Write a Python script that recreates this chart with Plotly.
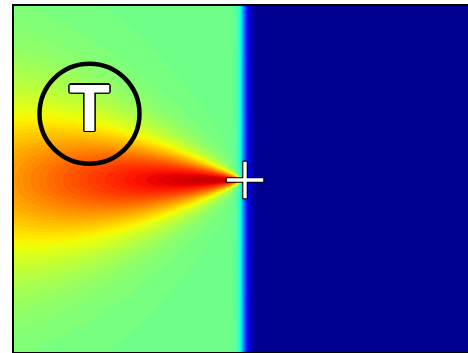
import numpy as np
import plotly.graph_objects as go

# Plot window in field units (1 unit = 100 px on screen)
x_range = [-2.31, 2.23]
y_range = [-1.72, 1.74]
grid_step = 0.01

# Marked locations
source_xy = [0.0, 0.0]          # plume tip, drawn as a cross
probe_xy = [-1.555, 0.662]      # probe, drawn as a ring with a label
probe_label = ["T"]

# Background levels either side of the front
left_level = 0.485
right_level = 0.012
front_x = -0.01
front_width = 0.06

# Plume: peak value, decay length, and width law  w = coef * r**exp
plume_peak = 0.46
plume_decay = 3.1
plume_width_coef = 0.406
plume_width_exp = 0.95

# Jet colour map breakpoints
jet_r = ([0, 0.35, 0.66, 0.89, 1], [0, 0, 1, 1, 0.5])
jet_g = ([0, 0.125, 0.375, 0.64, 0.91, 1], [0, 0, 1, 1, 0, 0])
jet_b = ([0, 0.11, 0.34, 0.65, 1], [0.5, 1, 1, 0, 0])


def jet_scale(n=101):
    scale = []
    for v in np.linspace(0, 1, n):
        r = np.interp(v, *jet_r)
        g = np.interp(v, *jet_g)
        b = np.interp(v, *jet_b)
        scale.append([float(v), f"rgb({int(round(r*255))},{int(round(g*255))},{int(round(b*255))})"])
    return scale


xs = np.arange(x_range[0], x_range[1] + 1e-9, grid_step)
ys = np.arange(y_range[0], y_range[1] + 1e-9, grid_step)
X, Y = np.meshgrid(xs, ys)
dx = X - source_xy[0]
dy = Y - source_xy[1]
r = np.hypot(dx, dy) + 1e-9
width = plume_width_coef * r ** plume_width_exp
plume = plume_peak * np.exp(-(r / plume_decay) ** 2) * np.exp(-(dy / width) ** 2)
step = 0.5 * (1 - np.tanh((X - front_x) / front_width))
Z = right_level + (left_level - right_level + plume) * step

fig = go.Figure()
fig.add_trace(go.Contour(
    x=xs, y=ys, z=Z,
    colorscale=jet_scale(), zmin=0, zmax=1,
    autocontour=False,
    contours=dict(start=0, end=1, size=0.01, coloring="fill", showlines=False),
    line=dict(width=0), showscale=False, hoverinfo="skip",
))

# Cross at the plume tip: black outline strokes under white strokes
for sym_color, size, lw in [("black", 27.6, 5.5), ("white", 26.0, 3.4)]:
    for sym in ["line-ew", "line-ns"]:
        fig.add_trace(go.Scatter(
            x=[source_xy[0]], y=[source_xy[1]], mode="markers",
            marker=dict(symbol=sym, size=size, color=sym_color,
                        line=dict(width=lw, color=sym_color)),
            hoverinfo="skip",
        ))

# Probe ring with its label
outline = ", ".join(f"{a}px {b}px 0 #000" for a, b in
                    [(1.5, 0), (-1.5, 0), (0, 1.5), (0, -1.5), (1, 1), (-1, -1), (1, -1), (-1, 1)])
fig.add_trace(go.Scatter(
    x=[probe_xy[0]], y=[probe_xy[1]], mode="markers+text",
    marker=dict(symbol="circle-open", size=100, color="black",
                line=dict(width=4.5, color="black")),
    text=probe_label, textposition="middle center",
    textfont=dict(family="Liberation Sans", size=67, color="white",
                  weight="bold", shadow=outline),
    hoverinfo="skip",
))

axis_common = dict(showgrid=False, zeroline=False, showticklabels=False, ticks="",
                   showline=True, linewidth=2, linecolor="black")
fig.update_layout(
    width=468, height=353,
    margin=dict(l=14, r=0, t=6, b=1, pad=0, autoexpand=False),
    paper_bgcolor="white", plot_bgcolor="white", showlegend=False,
    xaxis=dict(range=x_range, mirror=True, **axis_common),
    yaxis=dict(range=y_range, mirror=False, **axis_common),
)
fig.write_html("out.html")
